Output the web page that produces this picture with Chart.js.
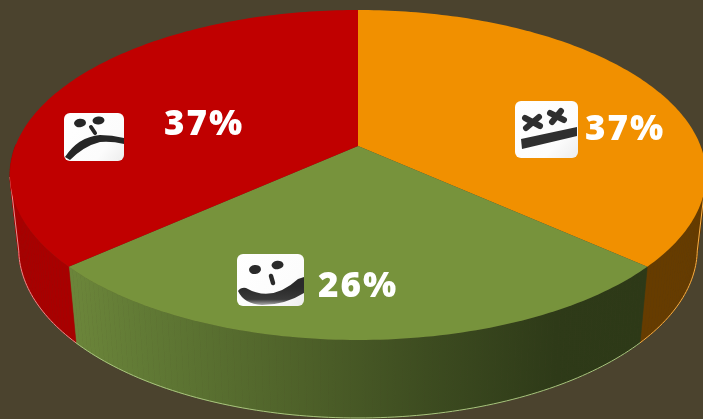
<!DOCTYPE html>
<html>
<head>
<meta charset="utf-8">
<script src="https://cdn.jsdelivr.net/npm/chart.js@4/dist/chart.umd.js"></script>
<style>
  html, body { margin: 0; padding: 0; background: #4b432e; overflow: hidden; }
  canvas { display: block; }
</style>
</head>
<body>
<canvas id="pie" width="703" height="419"></canvas>
<script>
// Survey result split, clockwise from twelve o'clock.
const categories = ['Neutral', 'Happy', 'Sad'];
const shares = [37, 26, 37];
const faceColors = ['#f19000', '#77933c', '#c00000'];
const wallColors = ['#663c00', null, '#a80000'];
const rimColors = ['#f8ae44', '#a9c47e', '#e88e8e'];

// Where each share's percentage sits on the disc.
const labelSpots = [
  { x: 585, y: 140 },
  { x: 318, y: 297 },
  { x: 164, y: 135 }
];

// Perspective model of the disc: a unit circle (u, v) mapped to the page.
const DISC = {
  k: -0.1758,
  warp: 1.4 * Math.PI / 180,
  cx: 358,
  top: { A: 342.6, a: 159.9, y0: 146 },
  bottom: { A: 334, a: 164, y0: 219 }
};

function discPoint(angle) {
  const t = angle + Math.PI / 2;
  const w = t + DISC.warp * Math.sin(2 * t);
  return { u: Math.sin(w), v: -Math.cos(w) };
}

function project(angle, plane) {
  const { u, v } = discPoint(angle);
  const d = 1 + DISC.k * v;
  return { x: DISC.cx + plane.A * u / d, y: plane.y0 + plane.a * v / d, v };
}

function sweep(start, end) {
  const n = Math.max(2, Math.ceil((end - start) / (Math.PI / 180)));
  const out = [];
  for (let i = 0; i <= n; i++) out.push(start + (end - start) * i / n);
  return out;
}

// Pie slices are drawn as the top face of the tilted disc.
Chart.ArcElement.prototype.draw = function (ctx) {
  const { startAngle, endAngle } = this.getProps(['startAngle', 'endAngle']);
  ctx.save();
  ctx.beginPath();
  ctx.moveTo(DISC.cx, DISC.top.y0);
  sweep(startAngle, endAngle).forEach(a => {
    const p = project(a, DISC.top);
    ctx.lineTo(p.x, p.y);
  });
  ctx.closePath();
  ctx.fillStyle = this.options.backgroundColor;
  ctx.fill();
  ctx.restore();
};

function greenWall(ctx) {
  const g = ctx.createLinearGradient(76, 0, 641, 0);
  g.addColorStop(0, '#6b853a');
  g.addColorStop(0.12, '#617a35');
  g.addColorStop(0.4, '#4e6129');
  g.addColorStop(0.62, '#3d4c20');
  g.addColorStop(0.85, '#2e3a18');
  g.addColorStop(1, '#2d3917');
  return g;
}

const wallPlugin = {
  id: 'discWalls',
  beforeDatasetsDraw(chart) {
    const ctx = chart.ctx;
    const arcs = chart.getDatasetMeta(0).data;
    ctx.save();
    arcs.forEach((arc, i) => {
      const style = wallColors[i] || greenWall(ctx);
      ctx.fillStyle = style;
      ctx.strokeStyle = style;
      ctx.lineWidth = 0.6;
      const angles = sweep(arc.startAngle, arc.endAngle);
      for (let s = 0; s < angles.length - 1; s++) {
        const a = project(angles[s], DISC.top), b = project(angles[s + 1], DISC.top);
        const c = project(angles[s + 1], DISC.bottom), d = project(angles[s], DISC.bottom);
        if (Math.max(a.v, b.v) < 0) continue;
        ctx.beginPath();
        ctx.moveTo(a.x, a.y);
        ctx.lineTo(b.x, b.y);
        ctx.lineTo(c.x, c.y);
        ctx.lineTo(d.x, d.y);
        ctx.closePath();
        ctx.fill();
        ctx.stroke();
      }
    });
    // Thin light rim along the outer lower edge.
    arcs.forEach((arc, i) => {
      ctx.strokeStyle = rimColors[i];
      ctx.lineWidth = 1;
      ctx.beginPath();
      let started = false;
      const limit = -DISC.k;
      let lastVisible = null;
      sweep(arc.startAngle, arc.endAngle).forEach(a => {
        const p = project(a, DISC.bottom);
        if (p.v < limit) return;
        if (!started) {
          if (i === 0) {
            const t = project(a, DISC.top);
            ctx.moveTo(t.x, t.y);
            ctx.lineTo(p.x, p.y);
          } else {
            ctx.moveTo(p.x, p.y);
          }
          started = true;
        } else {
          ctx.lineTo(p.x, p.y);
        }
        lastVisible = a;
      });
      if (i === 2 && lastVisible !== null) {
        const t = project(lastVisible, DISC.top);
        ctx.lineTo(t.x, t.y);
      }
      ctx.stroke();
    });
    ctx.restore();
  }
};

function roundedTile(ctx, x, y, w, h) {
  const g = ctx.createLinearGradient(x, y, x + w, y + h);
  g.addColorStop(0, '#ffffff');
  g.addColorStop(0.7, '#fcfcfc');
  g.addColorStop(1, '#ededed');
  ctx.fillStyle = g;
  ctx.beginPath();
  ctx.roundRect(x, y, w, h, 6);
  ctx.fill();
}

function blob(ctx, x, y, rx, ry, rot) {
  ctx.beginPath();
  ctx.ellipse(x, y, rx, ry, rot, 0, Math.PI * 2);
  ctx.fill();
}

function bar(ctx, x1, y1, x2, y2, width) {
  ctx.lineWidth = width;
  ctx.lineCap = 'round';
  ctx.beginPath();
  ctx.moveTo(x1, y1);
  ctx.lineTo(x2, y2);
  ctx.stroke();
}

const faces = [
  function neutral(ctx) {
    roundedTile(ctx, 515, 101, 63, 57);
    ctx.save();
    ctx.filter = 'blur(0.7px)';
    ctx.fillStyle = '#2f2f2f';
    ctx.strokeStyle = '#2f2f2f';
    bar(ctx, 525, 118, 540, 126, 6);
    bar(ctx, 526, 128, 539, 117, 6);
    bar(ctx, 550, 113, 564, 120, 6);
    bar(ctx, 552, 122, 561, 111, 6);
    ctx.beginPath();
    ctx.moveTo(521, 139);
    ctx.lineTo(577, 127);
    ctx.lineTo(577, 136);
    ctx.lineTo(522, 149);
    ctx.closePath();
    ctx.fill();
    ctx.restore();
  },
  function happy(ctx) {
    roundedTile(ctx, 237, 254, 67, 52);
    ctx.save();
    ctx.filter = 'blur(0.7px)';
    ctx.fillStyle = '#2a2a2a';
    ctx.strokeStyle = '#2a2a2a';
    blob(ctx, 255, 269.5, 6, 4.6, -0.1);
    blob(ctx, 277.5, 265, 6, 4.2, -0.1);
    bar(ctx, 271, 276, 273, 283, 4.5);
    const m = ctx.createLinearGradient(0, 287, 0, 306);
    m.addColorStop(0, '#2a2a2a');
    m.addColorStop(0.65, '#3a3a3a');
    m.addColorStop(1, '#c0c0c0');
    ctx.fillStyle = m;
    ctx.beginPath();
    ctx.moveTo(238, 291);
    ctx.quadraticCurveTo(241, 287, 246, 288);
    ctx.quadraticCurveTo(272, 303, 298, 279);
    ctx.lineTo(304, 277);
    ctx.lineTo(304, 293);
    ctx.quadraticCurveTo(285, 305, 262, 305);
    ctx.quadraticCurveTo(244, 304, 238, 291);
    ctx.closePath();
    ctx.fill();
    ctx.restore();
  },
  function sad(ctx) {
    roundedTile(ctx, 64, 113, 60, 48);
    ctx.save();
    ctx.filter = 'blur(0.7px)';
    ctx.fillStyle = '#262626';
    ctx.strokeStyle = '#262626';
    blob(ctx, 80, 123, 6, 4.2, -0.1);
    blob(ctx, 98.5, 120.5, 6, 4, -0.1);
    bar(ctx, 91, 127, 95, 133, 4);
    ctx.beginPath();
    ctx.moveTo(65, 157);
    ctx.quadraticCurveTo(78, 137, 100, 135);
    ctx.quadraticCurveTo(112, 135, 124, 138);
    ctx.lineTo(124, 144);
    ctx.quadraticCurveTo(112, 141, 100, 142);
    ctx.quadraticCurveTo(84, 146, 70, 160);
    ctx.closePath();
    ctx.fill();
    ctx.restore();
  }
];

const labelPlugin = {
  id: 'shareLabels',
  afterDatasetsDraw(chart) {
    const ctx = chart.ctx;
    ctx.save();
    faces.forEach(face => face(ctx));
    ctx.fillStyle = '#ffffff';
    ctx.font = '800 35px "Open Sans"';
    ctx.letterSpacing = '2px';
    ctx.textBaseline = 'alphabetic';
    ctx.textAlign = 'left';
    shares.forEach((value, i) => {
      ctx.fillText(value + '%', labelSpots[i].x, labelSpots[i].y);
    });
    ctx.restore();
  }
};

new Chart(document.getElementById('pie'), {
  type: 'pie',
  data: {
    labels: categories,
    datasets: [{ data: shares, backgroundColor: faceColors, borderWidth: 0 }]
  },
  options: {
    responsive: false,
    animation: false,
    plugins: { legend: { display: false }, tooltip: { enabled: false } }
  },
  plugins: [wallPlugin, labelPlugin]
});
</script>
</body>
</html>
